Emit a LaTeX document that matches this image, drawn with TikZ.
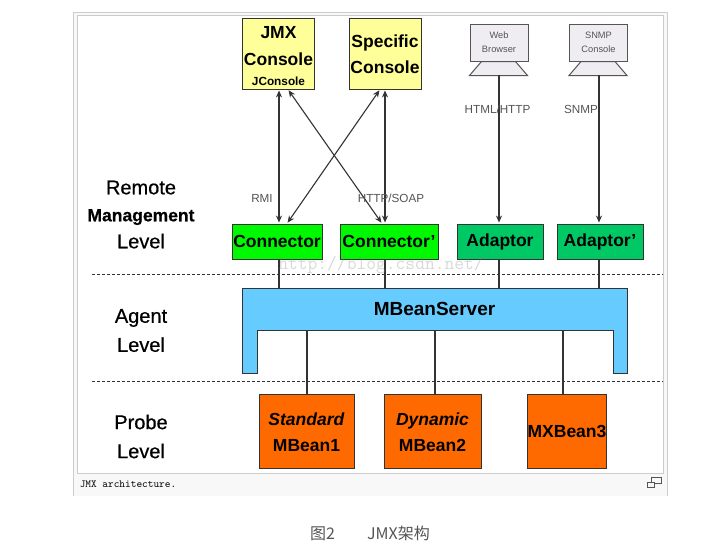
\documentclass[tikz,border=0pt]{standalone}
\usepackage{fontspec}
\setmainfont{Liberation Sans}
\newfontfamily\cjkfont{Noto Sans CJK SC}
\newfontfamily\levelfont[FakeBold=0.6]{Liberation Sans}
\usetikzlibrary{arrows.meta}
\definecolor{framegray}{HTML}{CCCCCC}
\definecolor{stripgray}{HTML}{F8F8F8}
\definecolor{linegray}{HTML}{333333}
\definecolor{labelgray}{HTML}{555555}
\definecolor{consoleyellow}{HTML}{FFFF99}
\definecolor{connectorgreen}{HTML}{00F800}
\definecolor{adaptorgreen}{HTML}{00C864}
\definecolor{serverblue}{HTML}{66CCFF}
\definecolor{beanorange}{HTML}{FF6A00}
\definecolor{screengray}{HTML}{EFEDF2}
\begin{document}
\begin{tikzpicture}[
    x=1pt, y=-1pt,
    every node/.style={align=center, inner sep=0pt},
    box/.style={draw=linegray, line width=0.9pt, font=\fontsize{17.5}{26}\selectfont\bfseries},
    console box/.style={box, fill=consoleyellow, minimum width=72pt, minimum height=71pt},
    connector box/.style={box, fill=connectorgreen, minimum height=35pt},
    adaptor box/.style={box, fill=adaptorgreen, minimum width=86pt, minimum height=35pt},
    bean box/.style={box, fill=beanorange, minimum height=74pt},
    screen box/.style={draw=labelgray, line width=1pt, fill=screengray, text=labelgray, minimum width=58pt, minimum height=37pt, font=\fontsize{9.3}{14}\selectfont},
    stand/.style={draw=labelgray, line width=1pt, fill=screengray},
    level label/.style={font=\levelfont\fontsize{20}{29}\selectfont},
    protocol label/.style={text=labelgray, font=\fontsize{11.7}{14}\selectfont},
    level line/.style={draw=linegray, line width=1pt, dash pattern=on 3pt off 2pt},
    plain link/.style={draw=linegray, line width=1.1pt},
    two way/.style={plain link, {Stealth[length=7pt,width=6pt]}-{Stealth[length=7pt,width=6pt]}, shorten <=1pt, shorten >=1pt},
    one way/.style={plain link, -{Stealth[length=7pt,width=6pt]}, shorten >=1pt},
    ]
\useasboundingbox (0,0) rectangle (726,557);
\fill[white] (0,0) rectangle (726,557);
\fill[stripgray] (73,12) rectangle (667,496);
\draw[framegray] (73,496) -- (73,12) -- (667,12) -- (667,496);
\draw[framegray, fill=white] (77,15) rectangle (663.5,473);
\draw[labelgray, line width=0.8pt] (651,477) rectangle (661,483);
\draw[labelgray, line width=0.8pt, fill=stripgray] (647,482) rectangle (654,487);
\node (caption) at (128,484.5) {\ttfamily\fontsize{10.8}{12}\selectfont JMX architecture.};
\node (figtitle) at (370,533) {\textcolor{labelgray}{\cjkfont\fontsize{16}{18}\selectfont 图2\hspace{32pt}JMX架构}};
% console row
\node[console box] (jmx) at (278.5,53.5) {\rule{0pt}{17pt}JMX\\[1pt]Console\\[-6pt]{\fontsize{11.8}{14}\selectfont JConsole}};
\node[console box] (specific) at (385,53.5) {\rule{0pt}{15pt}Specific\\Console};
\node[screen box] (web) at (499,42.5) {Web\\Browser};
\node[screen box] (snmp) at (598.5,42.5) {SNMP\\Console};
\draw[stand] (web.south west) ++(12,0) -- ++(34,0) -- ++(12,14) -- ++(-58,0) -- cycle;
\draw[stand] (snmp.south west) ++(12,0) -- ++(34,0) -- ++(12,14) -- ++(-58,0) -- cycle;
\coordinate (webfoot) at (499,75);
\coordinate (snmpfoot) at (599,75);
% remote management level
\node[connector box, minimum width=90pt] (conn) at (277,241.5) {Connector};
\node[connector box, minimum width=98pt] (connb) at (389,241.5) {Connector'};
\node[adaptor box] (adp) at (500,241.5) {Adaptor};
\node[adaptor box] (adpb) at (600,241.5) {Adaptor'};
\coordinate (porta) at (279,0);
\coordinate (portb) at (385,0);
\coordinate (portc) at (499,0);
\coordinate (portd) at (599,0);
\draw[two way] (porta |- jmx.south) -- (porta |- conn.north);
\draw[two way] (portb |- specific.south) -- (portb |- connb.north);
\draw[two way] ([xshift=9.5pt]jmx.south) -- ([xshift=-7pt]connb.north);
\draw[two way] ([xshift=-5pt]specific.south) -- ([xshift=10pt]conn.north);
\draw[one way] (webfoot) -- (adp.north -| webfoot);
\draw[one way] (snmpfoot) -- (adpb.north -| snmpfoot);
\node[protocol label] (rmi) at (262,198) {RMI};
\node[protocol label] (soap) at (391,198) {HTTP/SOAP};
\node[protocol label] (html) at (497.5,109) {HTML/HTTP};
\node[protocol label] (snmplabel) at (581,109) {SNMP};
\node[level label, font=\levelfont\fontsize{20}{27}\selectfont] (remote) at (141,214.5) {Remote\\{\fontsize{17.5}{27}\selectfont\bfseries Management}\\Level};
\coordinate (dasha) at (92,274);
\coordinate (dashb) at (663,274);
\draw[level line] (dasha) -- (dashb);
% agent level
\draw[draw=linegray, line width=0.9pt, fill=serverblue] (242,288) -- (627,288) -- (627,373) -- (613,373) -- (613,330) -- (257,330) -- (257,373) -- (242,373) -- cycle;
\node[minimum width=385pt, minimum height=42pt, font=\fontsize{19}{24}\selectfont\bfseries] (server) at (434.5,309) {MBeanServer};
\draw[plain link] (porta |- conn.south) -- (porta |- server.north);
\draw[plain link] (portb |- connb.south) -- (portb |- server.north);
\draw[plain link] (portc |- adp.south) -- (portc |- server.north);
\draw[plain link] (portd |- adpb.south) -- (portd |- server.north);
\node[level label] (agent) at (141,330.5) {Agent\\Level};
\coordinate (dashc) at (92,381);
\coordinate (dashd) at (663,381);
\draw[level line] (dashc) -- (dashd);
% probe level
\node[bean box, minimum width=95pt] (std) at (306.5,431) {\rule{0pt}{15pt}\textit{Standard}\\MBean1};
\node[bean box, minimum width=97pt] (dyn) at (432.5,431) {\rule{0pt}{15pt}\textit{Dynamic}\\MBean2};
\node[bean box, minimum width=78pt] (mx) at (567,431) {MXBean3};
\coordinate (portm) at (307,0);
\coordinate (portn) at (435,0);
\coordinate (porto) at (563,0);
\draw[plain link] (portm |- server.south) -- (portm |- std.north);
\draw[plain link] (portn |- server.south) -- (portn |- dyn.north);
\draw[plain link] (porto |- server.south) -- (porto |- mx.north);
\node[level label] (probe) at (141,436.5) {Probe\\Level};
\node[text=gray, opacity=0.3, font=\ttfamily\fontsize{19}{20}\selectfont] (mark) at (381,265) {http://blog.csdn.net/};
\end{tikzpicture}
\end{document}
